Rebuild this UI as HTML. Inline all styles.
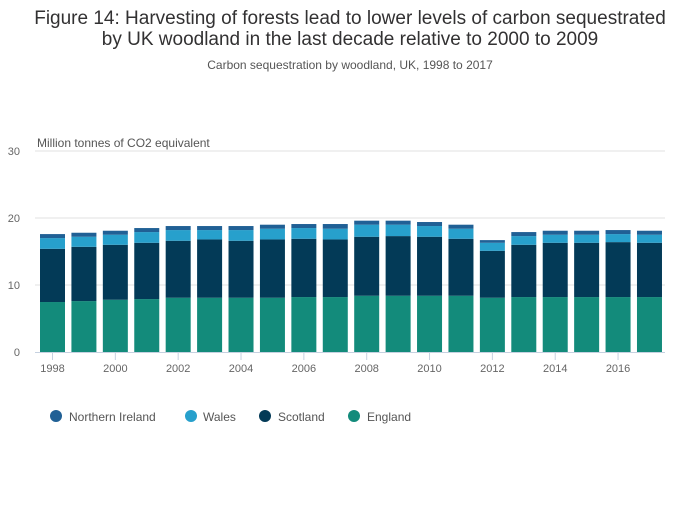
<!DOCTYPE html>
<html><head><meta charset="utf-8"><style>
body{margin:0;background:#fff;font-family:"Liberation Sans",sans-serif;}
svg text{font-family:"Liberation Sans",sans-serif;}
</style></head><body>
<svg id="chart" width="700" height="502" xmlns="http://www.w3.org/2000/svg">
<text x="350" y="24" text-anchor="middle" font-size="19" fill="#323132">Figure 14: Harvesting of forests lead to lower levels of carbon sequestrated</text>
<text x="350" y="45" text-anchor="middle" font-size="19" fill="#323132">by UK woodland in the last decade relative to 2000 to 2009</text>
<text x="350" y="69" text-anchor="middle" font-size="12" fill="#555">Carbon sequestration by woodland, UK, 1998 to 2017</text>
<text x="37" y="147" font-size="12" fill="#555">Million tonnes of CO2 equivalent</text>
<g id="grid"></g><g id="bars"></g><g id="xaxis"></g>
<g>
<g><circle cx="56" cy="416" r="6" fill="#206095"/><text x="69" y="421" font-size="12" fill="#555">Northern Ireland</text></g>
<g><circle cx="191" cy="416" r="6" fill="#27a0cc"/><text x="203" y="421" font-size="12" fill="#555">Wales</text></g>
<g><circle cx="265" cy="416" r="6" fill="#033a57"/><text x="278" y="421" font-size="12" fill="#555">Scotland</text></g>
<g><circle cx="354" cy="416" r="6" fill="#138b7b"/><text x="367" y="421" font-size="12" fill="#555">England</text></g>
</g>
</svg>
<script>
const years=[1998,1999,2000,2001,2002,2003,2004,2005,2006,2007,2008,2009,2010,2011,2012,2013,2014,2015,2016,2017];
const england=[7.46,7.6,7.8,7.9,8.1,8.1,8.1,8.1,8.2,8.2,8.4,8.4,8.4,8.4,8.1,8.2,8.2,8.2,8.2,8.2];
const scotland=[7.94,8.1,8.2,8.4,8.5,8.7,8.5,8.7,8.7,8.6,8.8,8.9,8.8,8.5,7.0,7.8,8.1,8.1,8.2,8.1];
const wales=[1.6,1.5,1.5,1.6,1.6,1.4,1.6,1.6,1.6,1.6,1.8,1.7,1.6,1.5,1.2,1.3,1.2,1.2,1.2,1.2];
const nireland=[0.6,0.6,0.6,0.6,0.6,0.6,0.6,0.6,0.6,0.7,0.6,0.6,0.6,0.6,0.4,0.6,0.6,0.6,0.6,0.6];
const yTicks=[0,10,20,30];
const NS="http://www.w3.org/2000/svg";
function y(v){return 352-v*(201/30);}
function x(i){return 40+i*31.42;}
const bw=25;
const grid=document.getElementById('grid');
yTicks.forEach(t=>{
 if(t>0){const l=document.createElementNS(NS,'line');
 l.setAttribute('x1',35);l.setAttribute('x2',665);l.setAttribute('y1',y(t));l.setAttribute('y2',y(t));l.setAttribute('stroke','#e2e2e2');
 
 
 grid.appendChild(l);}
 const tx=document.createElementNS(NS,'text');
 tx.setAttribute('x',20);tx.setAttribute('y',y(t)+4);tx.setAttribute('text-anchor','end');tx.setAttribute('font-size','11');tx.setAttribute('fill','#666');
 tx.textContent=t;
 
 
 grid.appendChild(tx);
});
const series=[[england,'#138b7b','england'],[scotland,'#033a57','scotland'],[wales,'#27a0cc','wales'],[nireland,'#206095','northern-ireland']];
const bars=document.getElementById('bars');
years.forEach((yr,i)=>{
 let base=0;
 series.forEach(([arr,col,nm])=>{
  const v=arr[i];const r=document.createElementNS(NS,'rect');
  r.setAttribute('x',x(i));r.setAttribute('width',bw);r.setAttribute('y',y(base+v));r.setAttribute('height',y(base)-y(base+v));r.setAttribute('fill',col);
  
  
  bars.appendChild(r);base+=v;
 });
});
const xa=document.getElementById('xaxis');
const al=document.createElementNS(NS,'line');
al.setAttribute('x1',35);al.setAttribute('x2',665);al.setAttribute('y1',352.5);al.setAttribute('y2',352.5);al.setAttribute('stroke','#c6d1e0');


xa.appendChild(al);
years.forEach((yr,i)=>{
 if(yr%2)return;
 const cx=x(i)+bw/2;
 const tk=document.createElementNS(NS,'line');
 tk.setAttribute('x1',cx);tk.setAttribute('x2',cx);tk.setAttribute('y1',352);tk.setAttribute('y2',360);tk.setAttribute('stroke','#c6d1e0');
 
 
 xa.appendChild(tk);
 const t=document.createElementNS(NS,'text');
 t.setAttribute('x',cx);t.setAttribute('y',372);t.setAttribute('text-anchor','middle');t.setAttribute('font-size','11');t.setAttribute('fill','#666');
 t.textContent=yr;
 
 
 xa.appendChild(t);
});
</script>
</body></html>
